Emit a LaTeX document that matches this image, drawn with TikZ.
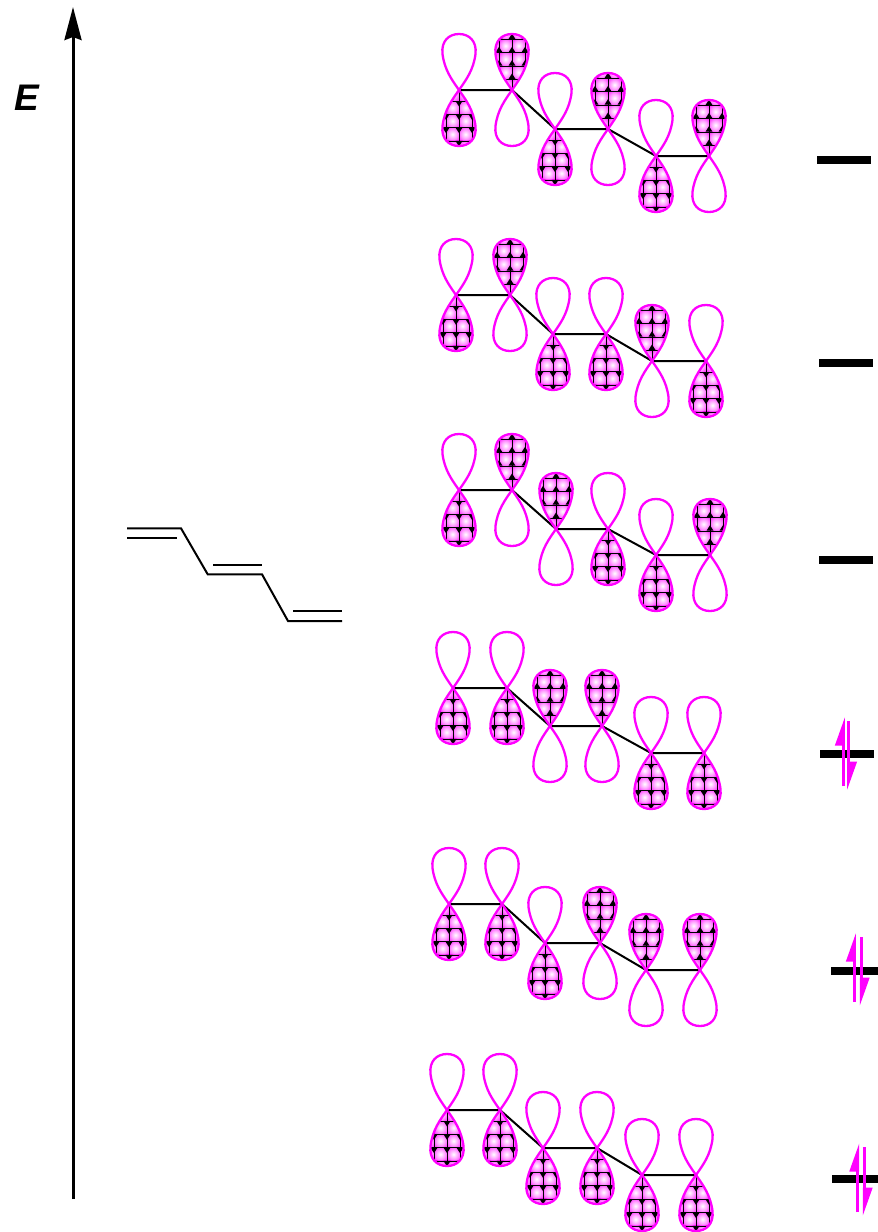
\documentclass[tikz,border=0pt]{standalone}
\usepackage{fontspec}
\setsansfont{Liberation Sans}
\usepackage{tikz}
\usetikzlibrary{arrows.meta}

\definecolor{mopink}{RGB}{255,0,255}

\pgfdeclareradialshading{mocell}{\pgfpoint{0bp}{0bp}}{
  color(0bp)=(white);
  color(18bp)=(white!60!mopink);
  color(38bp)=(mopink);
  color(60bp)=(mopink!50!black);
  color(100bp)=(black)}

% one p orbital: x, y, +1 filled lobe below / -1 filled lobe above
\newcommand{\orb}[3]{
  \begin{scope}[shift={(#1,#2)},yscale=#3]
    \begin{scope}
      \clip (0,0) .. controls (-7,10) and (-14.5,20) .. (-16.5,36) .. controls (-18,49) and (-10,56) .. (0,56)
        .. controls (10,56) and (18,49) .. (16.5,36) .. controls (14.5,20) and (7,10) .. (0,0);
      \foreach \cx in {-26,-13,0,13}
        \foreach \cy in {-2.3,11,24.3,37.6,50.9}
          \shade[shading=mocell] (\cx,\cy) rectangle ++(13,13.3);
      \foreach \cx in {-13,0,13}
        \draw[grid] (\cx,0) -- (\cx,56);
      \foreach \cy in {11,24.3,37.6,50.9}
        \draw[grid] (-17,\cy) -- (17,\cy);
      \foreach \cx in {-13,0,13}
        \foreach \cy in {11,24.3,37.6,50.9}
          \fill (\cx-3.5,\cy) -- (\cx+3.5,\cy) -- (\cx,\cy+5.5) -- cycle;
    \end{scope}
    \draw[lobe] (0,0) .. controls (-7,10) and (-14.5,20) .. (-16.5,36) .. controls (-18,49) and (-10,56) .. (0,56)
      .. controls (10,56) and (18,49) .. (16.5,36) .. controls (14.5,20) and (7,10) .. (0,0);
    \draw[lobe] (0,0) .. controls (-7,-10) and (-14.5,-20) .. (-16.5,-36) .. controls (-18,-49) and (-10,-56) .. (0,-56)
      .. controls (10,-56) and (18,-49) .. (16.5,-36) .. controls (14.5,-20) and (7,-10) .. (0,0);
  \end{scope}
}

\begin{document}
\begin{tikzpicture}[
  x=1pt, y=-1pt,
  font=\sffamily,
  lobe/.style={draw=mopink, line width=2.3pt},
  grid/.style={draw=black, line width=0.4pt},
  bond/.style={draw=black, line width=2pt},
  level/.style={draw=black, line width=8pt},
  spin/.style={draw=mopink, line width=3pt},
  up/.style={spin, -{Stealth[harpoon, inset=0pt, length=24pt, width=16pt]}},
  down/.style={spin, -{Stealth[harpoon, inset=0pt, length=24pt, width=16pt]}},
  axisline/.style={draw=black, line width=3pt, -{Stealth[length=33pt, width=17pt, inset=3pt]}}
]
\useasboundingbox (0,0) rectangle (878,1232);

% energy axis
\coordinate (axisbot) at (73,1199);
\coordinate (axistop) at (73,7);
\draw[axisline] (axisbot) -- (axistop);
\node[font=\fontsize{37}{37}\selectfont\sffamily\bfseries\itshape] (elabel) at (27,98) {E};

% hexatriene
\coordinate (h1) at (127,528.3);
\coordinate (h2) at (181,528.3);
\coordinate (h3) at (207.7,574.3);
\coordinate (h4) at (262,574.3);
\coordinate (h5) at (288,621);
\coordinate (h6) at (342,621);
\coordinate (d1) at (127,537.7);
\coordinate (d2) at (176.7,537.7);
\coordinate (d3) at (213,565);
\coordinate (d4) at (262,565);
\coordinate (d5) at (293,611);
\coordinate (d6) at (342,611);
\draw[bond] (h1) -- (h2) -- (h3) -- (h4) -- (h5) -- (h6);
\draw[bond] (d1) -- (d2);
\draw[bond] (d3) -- (d4);
\draw[bond] (d5) -- (d6);

% atoms of each orbital
\foreach \m/\a/\x/\y in {
  6/a/459/90,   6/b/512/90,   6/c/555/129,  6/d/608/129,  6/e/656/156,  6/f/709/156,
  5/a/456/295,  5/b/510/295,  5/c/553/334,  5/d/606/334,  5/e/652/361,  5/f/706/361,
  4/a/459/490,  4/b/512/490,  4/c/556/529,  4/d/608/529,  4/e/656/555,  4/f/710/555,
  3/a/453/688,  3/b/507/688,  3/c/550/726,  3/d/602/726,  3/e/651/753,  3/f/704/753,
  2/a/449/904,  2/b/502/904,  2/c/545/943,  2/d/600/943,  2/e/646/970,  2/f/700/970,
  1/a/447/1110, 1/b/500/1110, 1/c/543/1148, 1/d/597/1148, 1/e/642/1175, 1/f/696/1175}
  {\coordinate (m\m\a) at (\x,\y);}

\foreach \m in {1,...,6}
  {\draw[bond] (m\m a) -- (m\m b) -- (m\m c) -- (m\m d) -- (m\m e) -- (m\m f);}

\foreach \x/\y/\s in {
  459/90/1,   512/90/-1,  555/129/1,  608/129/-1, 656/156/1,  709/156/-1,
  456/295/1,  510/295/-1, 553/334/1,  606/334/1,  652/361/-1, 706/361/1,
  459/490/1,  512/490/-1, 556/529/-1, 608/529/1,  656/555/1,  710/555/-1,
  453/688/1,  507/688/1,  550/726/-1, 602/726/-1, 651/753/1,  704/753/1,
  449/904/1,  502/904/1,  545/943/1,  600/943/-1, 646/970/-1, 700/970/-1,
  447/1110/1, 500/1110/1, 543/1148/1, 597/1148/1, 642/1175/1, 696/1175/1}
  {\orb{\x}{\y}{\s}}

% levels
\foreach \n/\xa/\xb/\y in {6/817/871/160, 5/819/873/363, 4/819/873/560, 3/820/874/754, 2/831/878/971, 1/832/878/1179}{
  \coordinate (l\n a) at (\xa,\y);
  \coordinate (l\n b) at (\xb,\y);
  \draw[level] (l\n a) -- (l\n b);
}

% electrons
\foreach \n/\xa/\xb/\y in {3/843.3/848.7/717, 2/854.3/861.3/933, 1/857.7/864.3/1143}{
  \coordinate (s\n a) at (\xa,\y+69);
  \coordinate (s\n b) at (\xa,\y);
  \coordinate (s\n c) at (\xb,\y+4);
  \coordinate (s\n d) at (\xb,\y+73);
  \draw[up] (s\n a) -- (s\n b);
  \draw[down] (s\n c) -- (s\n d);
}
\end{tikzpicture}
\end{document}
